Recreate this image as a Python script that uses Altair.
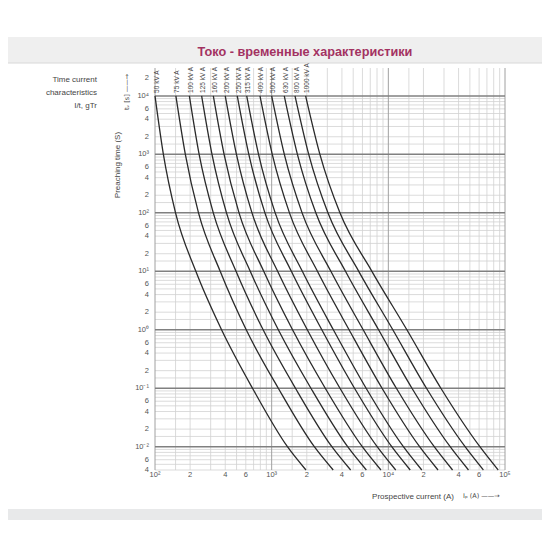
import altair as alt
import pandas as pd

# ---------------- data ----------------
ratings = ["50 kV A", "75 kV A", "100 kV A", "125 kV A", "160 kV A", "200 kV A",
           "250 kV A", "315 kV A", "400 kV A", "500 kV A", "630 kV A", "800 kV A", "1000 kV A"]

# pre-arcing times (s) at which the curves were read
t_points = [1e4, 1e3, 1e2, 1e1, 1e0, 1e-1, 1e-2, 4e-3]

# prospective current (A) of each curve at those times
i_50 = [100, 118, 150, 224, 372, 685, 1365, 1968]
i_75 = [151, 182, 236, 362, 605, 1140, 2320, 3369]
i_100 = [197, 239, 316, 495, 845, 1600, 3280, 4753]
i_125 = [251, 308, 410, 655, 1140, 2170, 4480, 6479]
i_160 = [316, 391, 525, 855, 1510, 2880, 5980, 8640]
i_200 = [400, 499, 678, 1125, 2020, 3850, 8020, 11575]
i_250 = [507, 637, 875, 1475, 2690, 5130, 10700, 15410]
i_315 = [611, 772, 1072, 1832, 3379, 6450, 13460, 19350]
i_400 = [794, 1012, 1421, 2467, 4609, 8831, 18540, 26660]
i_500 = [1000, 1284, 1823, 3217, 6087, 11720, 24740, 35530]
i_630 = [1282, 1662, 2389, 4292, 8250, 15940, 33880, 48650]
i_800 = [1585, 2078, 3035, 5577, 10920, 21230, 45490, 65270]
i_1000 = [1954, 2591, 3846, 7230, 14420, 28210, 60900, 87400]

curve_currents = [i_50, i_75, i_100, i_125, i_160, i_200, i_250,
                  i_315, i_400, i_500, i_630, i_800, i_1000]

y_tick_values = [2e4, 1e4, 6e3, 4e3, 2e3, 1e3, 600, 400, 200, 100, 60, 40, 20, 10,
                 6, 4, 2, 1, 0.6, 0.4, 0.2, 0.1, 0.06, 0.04, 0.02, 0.01, 0.006, 0.004]
y_tick_labels = ["2", "10⁴", "6", "4", "2", "10³", "6", "4", "2", "10²", "6", "4", "2", "10¹",
                 "6", "4", "2", "10⁰", "6", "4", "2", "10⁻¹", "6", "4", "2", "10⁻²", "6", "4"]

x_tick_values = [100, 200, 400, 600, 1000, 2000, 4000, 6000, 1e4, 2e4, 4e4, 6e4, 1e5]
x_tick_labels = ["10²", "2", "4", "6", "10³", "2", "4", "6", "10⁴", "2", "4", "6", "10⁵"]

grid_mult = [1, 1.5, 2, 3, 4, 5, 6, 7, 8, 9]
x_decades = [100, 1000, 10000]
y_decades = [1e-3, 1e-2, 1e-1, 1, 10, 100, 1000]

title_text = "Токо - временные характеристики"
left_lines = ["Time current", "characteristics", "I/t, gTr"]

# ---------------- tables ----------------
rows = []
for name, cur in zip(ratings, curve_currents):
    for i_val, t_val in zip(cur, t_points):
        rows.append({"rating": name, "I": i_val, "t": t_val})
df_curves = pd.DataFrame(rows)

df_labels = pd.DataFrame({"rating": ratings, "I": [c[0] for c in curve_currents],
                          "t": [t_points[0]] * len(ratings)})

xg = []
for d in x_decades:
    for m in grid_mult:
        xg.append({"I": d * m, "major": m == 1})
xg.append({"I": 1e5, "major": True})
df_xg = pd.DataFrame(xg)

yg = []
for d in y_decades:
    for m in grid_mult:
        v = d * m
        if v >= 0.00399:
            yg.append({"t": v, "major": m == 1})
yg.append({"t": 1e4, "major": True})
df_yg = pd.DataFrame(yg)

df_yt = pd.DataFrame({"t": y_tick_values, "lab": y_tick_labels})
df_xt = pd.DataFrame({"I": x_tick_values, "lab": x_tick_labels})

# ---------------- chart ----------------
W, H = 350, 402
xscale = alt.Scale(type="log", domain=[100, 1e5], nice=False)
yscale = alt.Scale(type="log", domain=[4e-3, 3e4], nice=False)
X = lambda: alt.X("I:Q", scale=xscale, axis=None)
Y = lambda: alt.Y("t:Q", scale=yscale, axis=None)

FONT = "Liberation Sans, Arial, sans-serif"
SYM = "DejaVu Sans, sans-serif"
TXT = "#454545"
one = alt.Data(values=[{"a": 1}])

band_top = alt.Chart(one).mark_rect(color="#efefef").encode(
    x=alt.value(-147), x2=alt.value(387), y=alt.value(-31), y2=alt.value(-5))
band_line = alt.Chart(one).mark_rule(color="#d8d8d8", strokeWidth=1).encode(
    x=alt.value(-147), x2=alt.value(387), y=alt.value(-5))
band_bot = alt.Chart(one).mark_rect(color="#e8e9ea").encode(
    x=alt.value(-147), x2=alt.value(387), y=alt.value(441), y2=alt.value(452))

vgrid_minor = alt.Chart(df_xg).transform_filter("!datum.major").mark_rule(
    color="#d2d2d2", strokeWidth=0.8).encode(x=X(), y=alt.value(0), y2=alt.value(H))
vgrid_major = alt.Chart(df_xg).transform_filter("datum.major").mark_rule(
    color="#a0a0a0", strokeWidth=1).encode(x=X(), y=alt.value(0), y2=alt.value(H))
hgrid_minor = alt.Chart(df_yg).transform_filter("!datum.major").mark_rule(
    color="#d2d2d2", strokeWidth=0.8).encode(y=Y(), x=alt.value(0), x2=alt.value(W))
hgrid_major = alt.Chart(df_yg).transform_filter("datum.major").mark_rule(
    color="#808080", strokeWidth=1.5).encode(y=Y(), x=alt.value(0), x2=alt.value(W))

curves = alt.Chart(df_curves).mark_line(
    interpolate="monotone", color="#2a2a2a", strokeWidth=1.3).encode(
    x=X(), y=Y(), detail="rating:N")

curve_labels = alt.Chart(df_labels).mark_text(
    angle=270, align="left", baseline="middle", dx=3, dy=1.5,
    font=FONT, fontSize=6.5, color=TXT).encode(x=X(), y=Y(), text="rating:N")

ytick = alt.Chart(df_yt).mark_text(
    align="right", baseline="middle", font=FONT, fontSize=7.5, color="#555555").encode(
    y=Y(), x=alt.value(-6), text="lab:N")
xtick = alt.Chart(df_xt).mark_text(
    align="center", baseline="top", font=FONT, fontSize=7.5, color="#555555").encode(
    x=X(), y=alt.value(H + 1), text="lab:N")

title = alt.Chart(one).mark_text(
    text=title_text, font=FONT, fontSize=12.7,
    fontWeight="bold", color="#a33262", align="center", baseline="middle").encode(
    x=alt.value(150), y=alt.value(-16))

left_txt = [
    alt.Chart(one).mark_text(text=s, font=FONT, fontSize=8, color=TXT,
                             align="right", baseline="middle").encode(
        x=alt.value(-58), y=alt.value(yv))
    for s, yv in zip(left_lines, [12, 25, 38])
]

ytitle = alt.Chart(one).mark_text(
    text="Preaching time (S)", font=FONT, fontSize=8, color=TXT,
    angle=270, align="center", baseline="middle").encode(x=alt.value(-37), y=alt.value(97))
tv = alt.Chart(one).mark_text(
    text="tᵥ [s] ——→", font=SYM, fontSize=6.5, color=TXT,
    angle=270, align="left", baseline="middle").encode(x=alt.value(-28), y=alt.value(42))
xtitle = alt.Chart(one).mark_text(
    text="Prospective current (A)", font=FONT, fontSize=8, color=TXT,
    align="center", baseline="middle").encode(x=alt.value(258), y=alt.value(429))
ip = alt.Chart(one).mark_text(
    text="Iₚ (A) ——→", font=SYM, fontSize=6.5, color=TXT,
    align="left", baseline="middle").encode(x=alt.value(308), y=alt.value(428))

chart = alt.layer(
    band_top, band_line, band_bot,
    vgrid_minor, hgrid_minor, vgrid_major, hgrid_major,
    curves, curve_labels, ytick, xtick, title, *left_txt, ytitle, tv, xtitle, ip
).properties(
    width=W, height=H,
    padding={"left": 147, "top": 60, "right": 37, "bottom": 72},
    autosize="none",
    background="white",
).configure_view(stroke=None)

chart.save("out.html", embed_options={"renderer": "svg", "actions": False})
